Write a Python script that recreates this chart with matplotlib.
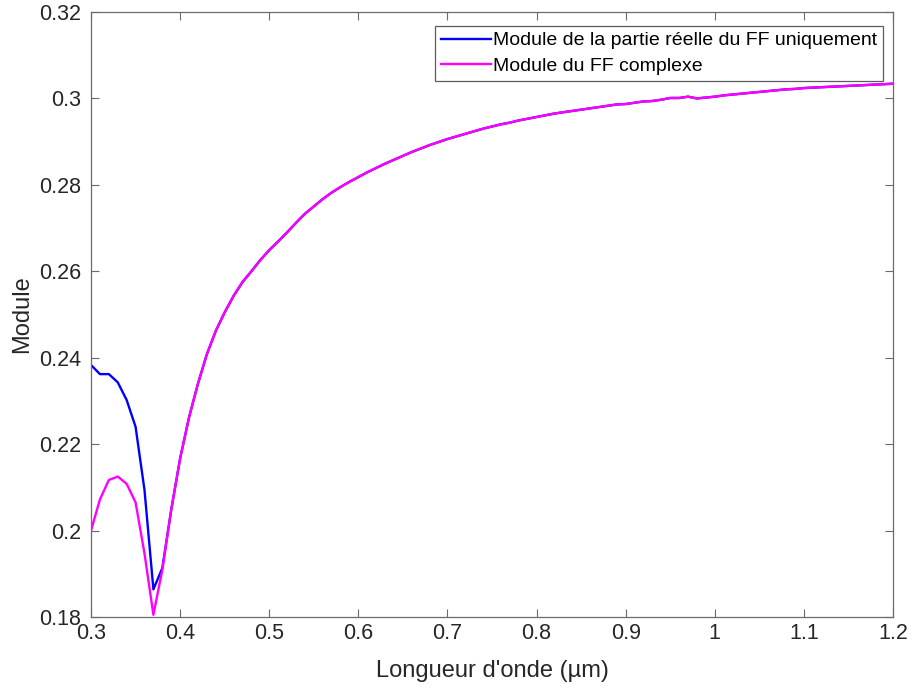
import matplotlib
matplotlib.use("Agg")
import matplotlib.pyplot as plt
import numpy as np
from matplotlib.ticker import FuncFormatter

plt.rcParams['font.family'] = ['Liberation Sans', 'DejaVu Sans']

# Wavelength (µm), step 0.01 from 0.30 to 1.20
wavelength = np.round(np.arange(0.30, 1.2001, 0.01), 2)

# Module of the complex FF
module_complex = [
    0.2000, 0.2072, 0.2117, 0.2125, 0.2108, 0.2065, 0.1947, 0.1805, 0.1909, 0.2048,
    0.2167, 0.2262, 0.2340, 0.2408, 0.2462, 0.2505, 0.2543, 0.2575, 0.2600, 0.2626,
    0.2649, 0.2669, 0.2690, 0.2712, 0.2733, 0.2750, 0.2767, 0.2782, 0.2795, 0.2807,
    0.2818, 0.2829, 0.2839, 0.2849, 0.2858, 0.2867, 0.2876, 0.2884, 0.2892, 0.2899,
    0.2906, 0.2912, 0.2918, 0.2924, 0.2930, 0.2935, 0.2940, 0.2944, 0.2949, 0.2953,
    0.2957, 0.2961, 0.2965, 0.2968, 0.2971, 0.2974, 0.2977, 0.2980, 0.2983, 0.2986,
    0.2987, 0.2990, 0.2993, 0.2994, 0.2997, 0.3001, 0.3001, 0.3004, 0.3000, 0.3002,
    0.3004, 0.3007, 0.3009, 0.3011, 0.3013, 0.3015, 0.3017, 0.3019, 0.3021, 0.3022,
    0.3024, 0.3025, 0.3026, 0.3027, 0.3028, 0.3029, 0.3030, 0.3031, 0.3032, 0.3033,
    0.3034,
]

# Module of the real part of FF only (differs only at short wavelengths)
module_real_start = [0.2383, 0.2362, 0.2362, 0.2343, 0.2302, 0.2240, 0.2094, 0.1864, 0.1913]
module_real = module_real_start + module_complex[len(module_real_start):]

labels = ["Module de la partie réelle du FF uniquement", "Module du FF complexe"]
xticks = [0.3, 0.4, 0.5, 0.6, 0.7, 0.8, 0.9, 1.0, 1.1, 1.2]
yticks = [0.18, 0.20, 0.22, 0.24, 0.26, 0.28, 0.30, 0.32]

fig = plt.figure(figsize=(9.13, 6.93), dpi=100)
ax = fig.add_axes([0.0997, 0.1097, 0.8784, 0.873])

ax.plot(wavelength, module_real, color='#0000ff', lw=1.7, label=labels[0])
ax.plot(wavelength, module_complex, color='#ff00ff', lw=1.7, label=labels[1])

ax.set_xlim(0.3, 1.2)
ax.set_ylim(0.18, 0.32)
ax.set_xticks(xticks)
ax.set_yticks(yticks)
fmt = FuncFormatter(lambda v, p: '%g' % round(v, 4))
ax.xaxis.set_major_formatter(fmt)
ax.yaxis.set_major_formatter(fmt)

axcol = '#6b6b6b'
for s in ax.spines.values():
    s.set_color(axcol)
    s.set_linewidth(0.9)
ax.tick_params(direction='in', length=6, width=0.8, color=axcol,
               labelsize=15.5, labelcolor='#262626', top=True, right=True)
ax.tick_params(axis='x', pad=4)
ax.tick_params(axis='y', pad=7)

ax.set_xlabel("Longueur d'onde (µm)", fontsize=17, color='#262626', labelpad=12)
ax.set_ylabel("Module", fontsize=17, color='#262626', labelpad=4)

leg = ax.legend(loc='upper right', bbox_to_anchor=(0.988, 0.977), fontsize=14,
                frameon=True, fancybox=False, handlelength=2.6, handletextpad=0.1,
                borderpad=0.3, labelspacing=0.4, borderaxespad=0.0)
leg.get_frame().set_edgecolor('#333333')
leg.get_frame().set_linewidth(0.9)

fig.savefig('out.png', dpi=100, facecolor='white')
